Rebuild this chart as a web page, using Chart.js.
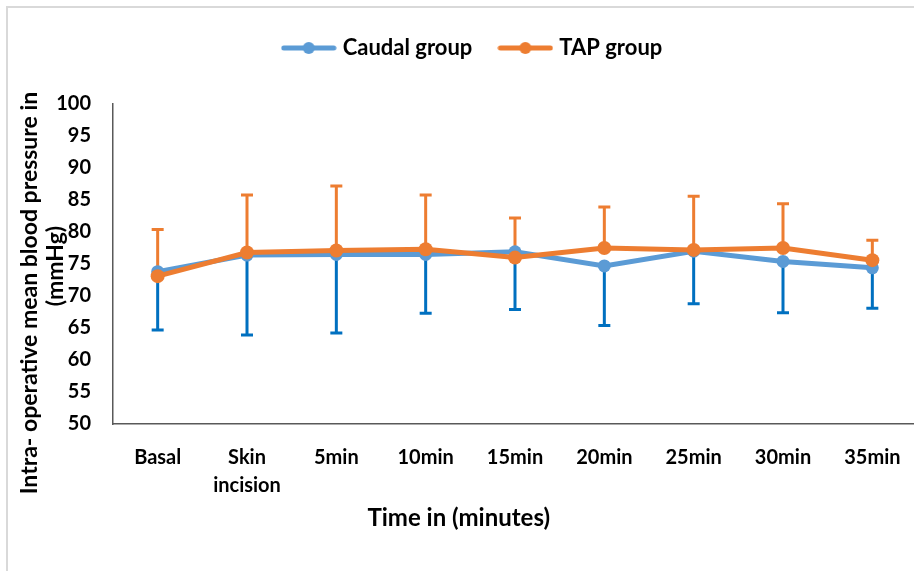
<!DOCTYPE html>
<html>
<head>
<meta charset="utf-8">
<script src="https://cdn.jsdelivr.net/npm/chart.js@4/dist/chart.umd.min.js"></script>
<style>
  html, body { margin: 0; padding: 0; background: #fff; overflow: hidden; }
  #wrap { position: relative; width: 914px; height: 571px; overflow: hidden; }
  #frame { position: absolute; left: 6px; top: 6px; width: 1000px; height: 1000px; border: 2px solid #d9d9d9; }
  #chart { position: absolute; left: 0; top: 0; }
</style>
</head>
<body>
<div id="wrap">
  <div id="frame"></div>
  <canvas id="chart" width="924" height="571"></canvas>
</div>
<script>
// time points
const timeLabels = ['Basal', ['Skin', 'incision'], '5min', '10min', '15min', '20min', '25min', '30min', '35min'];

// mean values (mmHg)
const caudalMean = [73.8, 76.4, 76.5, 76.5, 76.9, 74.7, 77.0, 75.4, 74.4];
const tapMean    = [73.1, 76.8, 77.1, 77.3, 76.0, 77.5, 77.2, 77.5, 75.6];

// SD, drawn down for caudal and up for TAP
const caudalSD = [9.1, 12.5, 12.3, 9.2, 9.0, 9.3, 8.2, 8.0, 6.3];
const tapSD    = [7.3, 9.0, 10.1, 8.5, 6.2, 6.4, 8.4, 6.9, 3.1];

const yTicks = { min: 50, max: 100, step: 5 };

const BLUE = '#5B9BD5';
const BLUE_ERR = '#0070C0';
const ORANGE = '#ED7D31';
const FONT = 'Lato';

// legend marker: line with a dot on it, like Excel
function makeMarker(color) {
    const c = document.createElement('canvas');
    c.width = 56;
    c.height = 14;
    const g = c.getContext('2d');
    g.strokeStyle = color;
    g.lineWidth = 5;
    g.lineCap = 'round';
    g.beginPath();
    g.moveTo(3, 7);
    g.lineTo(53, 7);
    g.stroke();
    g.fillStyle = color;
    g.beginPath();
    g.arc(28, 7, 6, 0, Math.PI * 2);
    g.fill();
    return c;
}

const errorBars = {
    id: 'errorBars',
    beforeDatasetsDraw(chart) {
        const ctx = chart.ctx;
        const y = chart.scales.y;
        chart.data.datasets.forEach((ds, di) => {
            const meta = chart.getDatasetMeta(di);
            ctx.save();
            ctx.strokeStyle = ds.errColor;
            ctx.lineWidth = 3;
            meta.data.forEach((pt, i) => {
                const v = ds.data[i];
                const end = v + ds.errDir * ds.err[i];
                const y0 = y.getPixelForValue(v);
                const y1 = y.getPixelForValue(end);
                ctx.beginPath();
                ctx.moveTo(pt.x, y0);
                ctx.lineTo(pt.x, y1);
                ctx.moveTo(pt.x - 6, y1);
                ctx.lineTo(pt.x + 6, y1);
                ctx.stroke();
            });
            ctx.restore();
        });
    }
};

const axisTitles = {
    id: 'axisTitles',
    afterDraw(chart) {
        const ctx = chart.ctx;
        const a = chart.chartArea;
        ctx.save();
        ctx.fillStyle = '#000';
        ctx.font = 'bold 24px ' + FONT;
        ctx.textAlign = 'center';
        ctx.textBaseline = 'middle';
        ctx.fillText('Time in (minutes)', a.left + 0.43 * (a.right - a.left), 518);

        ctx.font = 'bold 23px ' + FONT;
        ctx.translate(30, 293);
        ctx.rotate(-Math.PI / 2);
        ctx.fillText('Intra- operative mean blood pressure in', 0, 0);
        ctx.fillText('(mmHg)', 27, 26);
        ctx.restore();
    }
};

// extra room under the legend, and nudge it a bit to the right
const legendGap = {
    id: 'legendGap',
    beforeInit(chart) {
        const fit = chart.legend.fit;
        chart.legend.fit = function () {
            fit.bind(chart.legend)();
            this.height += 35;
            if (this.lineWidths) this.lineWidths[0] -= 26;
        };
    }
};

new Chart(document.getElementById('chart'), {
    type: 'line',
    data: {
        labels: timeLabels,
        datasets: [
            {
                label: 'Caudal group',
                data: caudalMean,
                err: caudalSD,
                errDir: -1,
                errColor: BLUE_ERR,
                borderColor: BLUE,
                backgroundColor: BLUE,
                borderWidth: 5,
                pointRadius: 6.5,
                pointBorderWidth: 0,
                tension: 0,
                order: 2
            },
            {
                label: 'TAP group',
                data: tapMean,
                err: tapSD,
                errDir: 1,
                errColor: ORANGE,
                borderColor: ORANGE,
                backgroundColor: ORANGE,
                borderWidth: 5,
                pointRadius: 7,
                pointBorderWidth: 0,
                tension: 0,
                order: 1
            }
        ]
    },
    options: {
        responsive: false,
        animation: false,
        layout: { padding: { top: 7, left: 0, right: 2, bottom: 0 } },
        plugins: {
            tooltip: { enabled: false },
            legend: {
                position: 'top',
                labels: {
                    usePointStyle: true,
                    pointStyleWidth: 46,
                    padding: 30,
                    color: '#000',
                    font: { family: FONT, size: 22, weight: 'bold' },
                    generateLabels(chart) {
                        return chart.data.datasets.map((ds, i) => ({
                            text: ds.label,
                            pointStyle: makeMarker(ds.borderColor),
                            fillStyle: ds.borderColor,
                            strokeStyle: ds.borderColor,
                            lineWidth: 0,
                            hidden: false,
                            datasetIndex: i
                        }));
                    }
                }
            }
        },
        scales: {
            x: {
                offset: true,
                grid: { display: false, drawTicks: false, offset: true },
                border: { display: true, color: '#595959', width: 1.5 },
                ticks: {
                    color: '#000',
                    padding: 20,
                    maxRotation: 0,
                    autoSkip: false,
                    font: { family: FONT, size: 20, weight: 'bold', lineHeight: 1.4 }
                },
                afterFit(scale) { scale.height = 147; }
            },
            y: {
                min: yTicks.min,
                max: yTicks.max,
                grid: { display: false, drawTicks: false },
                border: { display: true, color: '#595959', width: 1.5 },
                ticks: {
                    stepSize: yTicks.step,
                    color: '#000',
                    padding: 22,
                    font: { family: FONT, size: 20, weight: 'bold' }
                },
                afterFit(scale) { scale.width = 113; }
            }
        }
    },
    plugins: [errorBars, axisTitles, legendGap]
});
</script>
</body>
</html>
